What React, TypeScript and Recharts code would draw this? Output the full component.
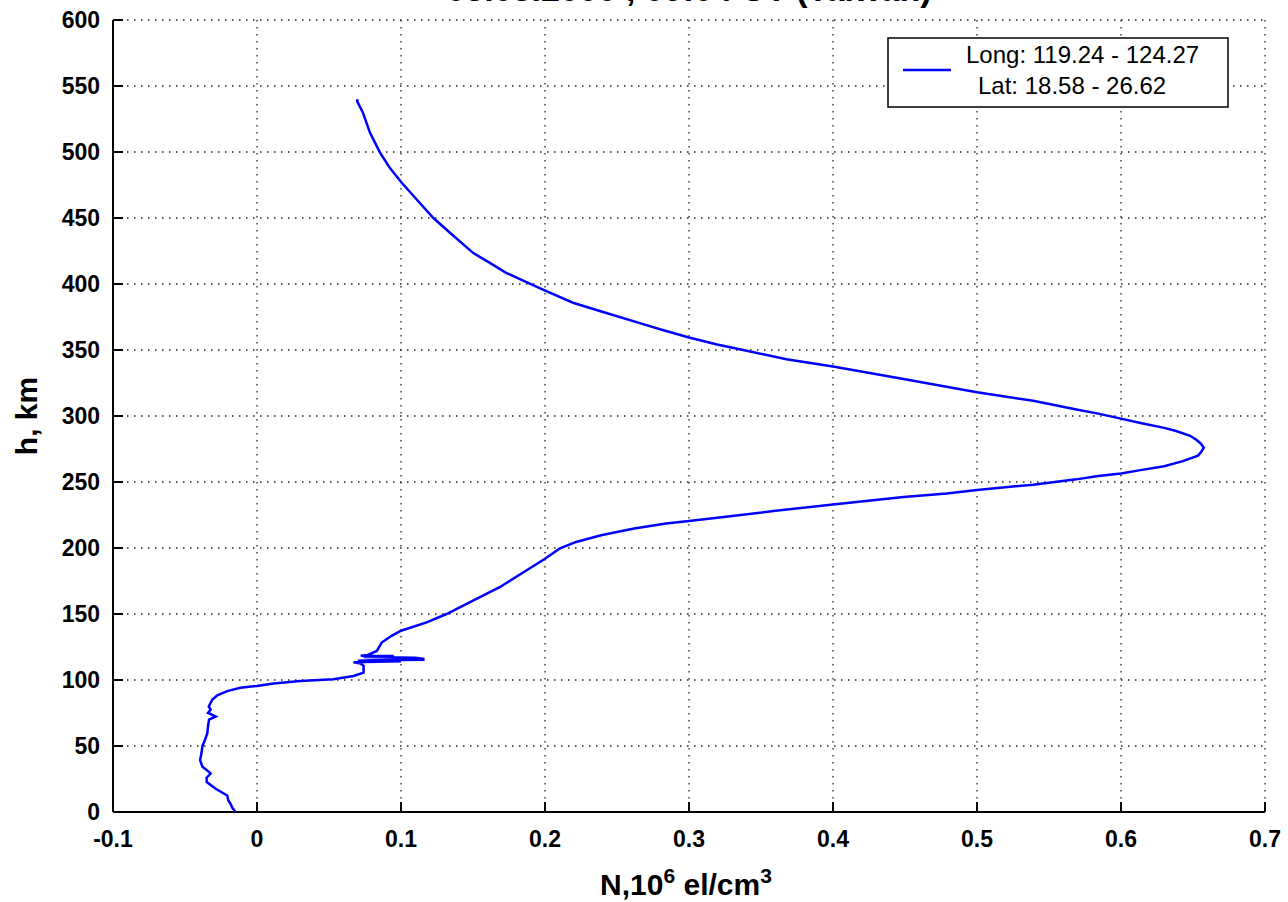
import React from 'react';
import { ScatterChart, Scatter, XAxis, YAxis, CartesianGrid, Customized } from 'recharts';

const heightKm = [
  540, 538.5, 530, 514.5, 499.4, 488, 476.7, 464, 450, 438.8, 423.6, 416, 408.5, 401.4, 395.8, 385.8, 378, 370, 365.5, 359.5,
  354.2, 350, 343, 337.5, 328, 318, 311.5, 305, 301.8, 298, 294.7, 291, 288.6, 285, 282.3, 279, 276, 272.5, 270, 265.8,
  262, 259, 256.5, 254.6, 252, 248, 244, 241.3, 238.7, 233, 228, 224, 220.5, 218.5, 214.7, 212, 209.6, 204.6, 199.5, 191.9,
  183, 170.3, 160.2, 150, 143.7, 137.3, 133.5, 128.4, 122, 119, 118.4, 118.2, 117.5, 116.8, 116, 115.3, 115, 114.5, 114.2, 113.5,
  112.5, 110.7, 105.6, 103, 100.5, 99.2, 97.4, 95.5, 94.1, 91.6, 88.3, 85.2, 80, 77.6, 75, 72.4, 70, 65, 59.7, 55,
  50, 45, 39.3, 34.2, 31, 29.1, 26, 22.7, 17.6, 12.5, 9, 6.1, 3, 0,
];
const densityN = [
  0.07, 0.0695, 0.0735, 0.0785, 0.0855, 0.0922, 0.1005, 0.1109, 0.1225, 0.134, 0.15, 0.1617, 0.173, 0.1871, 0.1986, 0.2194, 0.2426, 0.267, 0.2805, 0.3,
  0.3195, 0.3376, 0.3677, 0.4, 0.449, 0.5, 0.539, 0.569, 0.5842, 0.6, 0.6135, 0.63, 0.6383, 0.648, 0.6519, 0.6555, 0.6575, 0.6555, 0.6535, 0.6429,
  0.63, 0.6135, 0.6, 0.5842, 0.569, 0.539, 0.5, 0.479, 0.449, 0.4, 0.3586, 0.3286, 0.3, 0.284, 0.262, 0.249, 0.239, 0.2216, 0.21, 0.2,
  0.187, 0.1685, 0.15, 0.1316, 0.1178, 0.1, 0.0935, 0.0866, 0.0832, 0.077, 0.072, 0.095, 0.074, 0.11, 0.1155, 0.1155, 0.08, 0.07, 0.1, 0.067,
  0.072, 0.074, 0.074, 0.067, 0.053, 0.03, 0.0115, 0, -0.0115, -0.0207, -0.0276, -0.031, -0.0335, -0.0322, -0.034, -0.0287, -0.0333, -0.034, -0.0345, -0.036,
  -0.0379, -0.0385, -0.0395, -0.0379, -0.034, -0.0322, -0.035, -0.0349, -0.0287, -0.0207, -0.02, -0.0184, -0.017, -0.0149,
];
const xTicks = [-0.1, 0, 0.1, 0.2, 0.3, 0.4, 0.5, 0.6, 0.7];
const yTicks = [0, 50, 100, 150, 200, 250, 300, 350, 400, 450, 500, 550, 600];
const legendLines = ['Long: 119.24 - 124.27', 'Lat: 18.58 - 26.62'];
const titleText = '05.05.2000 , 09:04 UT (Taiwan)';
const yLabel = 'h, km';

const data = heightKm.map((h, i) => ({ n: densityN[i], h }));

const FONT = 'Liberation Sans, Arial, Helvetica, sans-serif';
const BLUE = '#0000ff';
const tickStyle = { fill: '#000', fontSize: 23, fontWeight: 'bold', fontFamily: FONT };

const Decorations = () => (
  <g fontFamily={FONT}>
    <text x={689} y={1} textAnchor="middle" fontSize={34} fontWeight="bold" fill="#000">{titleText}</text>
    <text x={0} y={0} transform="translate(37,416) rotate(-90)" textAnchor="middle" fontSize={30} fontWeight="bold" fill="#000">{yLabel}</text>
    <text x={686} y={895} textAnchor="middle" fontSize={30} fontWeight="bold" fill="#000">
      N,10<tspan dy={-12} fontSize={21}>6</tspan><tspan dy={12}> el/cm</tspan><tspan dy={-12} fontSize={21}>3</tspan>
    </text>
    <rect x={888} y={38} width={340} height={69} fill="#fff" stroke="#000" strokeWidth={1.5} />
    <line x1={903} x2={951} y1={70} y2={70} stroke={BLUE} strokeWidth={2.5} />
    <text x={966} y={63} fontSize={24} fill="#000">{legendLines[0]}</text>
    <text x={978} y={94} fontSize={24} fill="#000">{legendLines[1]}</text>
  </g>
);

export default function App() {
  return (
    <div style={{ position: 'absolute', left: 0, top: 0, background: '#fff' }}>
      <ScatterChart width={1288} height={902} margin={{ top: 20, right: 23, left: 0, bottom: 0 }}>
        <CartesianGrid stroke="#222" strokeWidth={1.3} strokeDasharray="1.5 5.5" />
        <XAxis
          type="number"
          dataKey="n"
          domain={[-0.1, 0.7]}
          ticks={xTicks}
          allowDataOverflow
          height={90}
          tick={tickStyle}
          tickSize={-10}
          tickMargin={29}
          axisLine={{ stroke: '#000', strokeWidth: 2 }}
          tickLine={{ stroke: '#000', strokeWidth: 2 }}
        />
        <XAxis
          xAxisId="top"
          orientation="top"
          type="number"
          domain={[-0.1, 0.7]}
          ticks={xTicks}
          allowDataOverflow
          height={0}
          tick={false}
          tickSize={-10}
          axisLine={{ stroke: '#000', strokeWidth: 2 }}
          tickLine={{ stroke: '#000', strokeWidth: 2 }}
        />
        <YAxis
          type="number"
          dataKey="h"
          domain={[0, 600]}
          ticks={yTicks}
          allowDataOverflow
          width={113}
          tick={tickStyle}
          tickSize={-10}
          tickMargin={23}
          axisLine={{ stroke: '#000', strokeWidth: 2 }}
          tickLine={{ stroke: '#000', strokeWidth: 2 }}
        />
        <YAxis
          yAxisId="right"
          orientation="right"
          type="number"
          domain={[0, 600]}
          ticks={yTicks}
          allowDataOverflow
          width={0}
          tick={false}
          tickSize={-10}
          axisLine={{ stroke: '#000', strokeWidth: 2 }}
          tickLine={{ stroke: '#000', strokeWidth: 2 }}
        />
        <Scatter
          data={data}
          fill={BLUE}
          line={{ stroke: BLUE, strokeWidth: 2.5 }}
          lineType="joint"
          shape={() => <g />}
          isAnimationActive={false}
        />
        <Customized component={Decorations} />
      </ScatterChart>
    </div>
  );
}
